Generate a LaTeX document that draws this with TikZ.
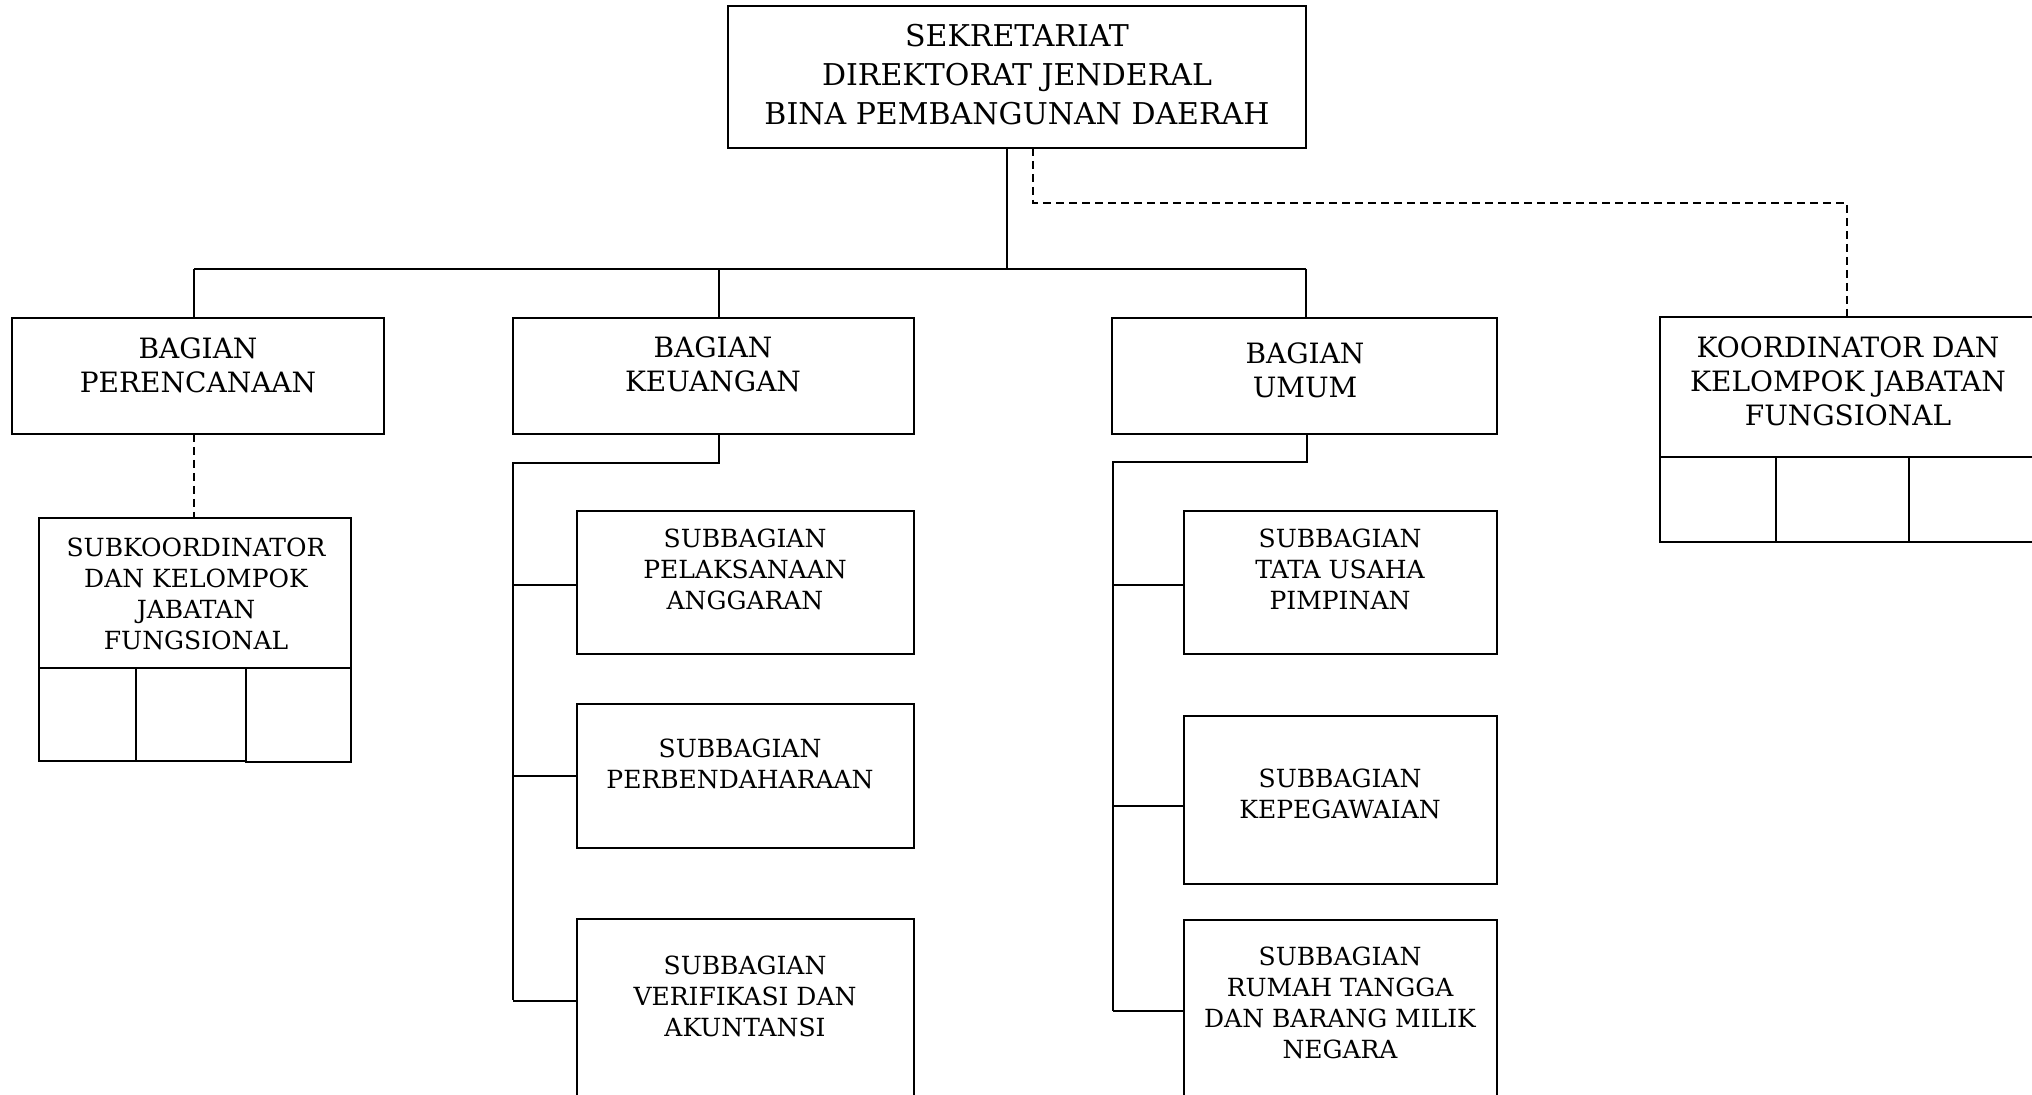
\documentclass[tikz,border=0pt]{standalone}
\usepackage{fontspec}
\setmainfont{DejaVu Serif}
\usetikzlibrary{fit}
\begin{document}
\begin{tikzpicture}[x=0.5pt,y=-0.5pt,
  box/.style={draw,line width=1.1pt,inner sep=0pt,outer sep=0pt},
  conn/.style={draw,line width=1.1pt},
  dconn/.style={draw,line width=1.1pt,dash pattern=on 4pt off 2.5pt},
  ttext/.style={align=center,inner sep=0pt,font=\fontsize{15pt}{19.5pt}\selectfont},
  btext/.style={align=center,inner sep=0pt,font=\fontsize{14pt}{17pt}\selectfont},
  stext/.style={align=center,inner sep=0pt,font=\fontsize{12.5pt}{15.5pt}\selectfont}]
\fill[white] (0,0) rectangle (2032,1095);
\clip (0,0) rectangle (2032,1095);
% boxes
\node[box,fit={(728,6) (1306,148)}] (top) {};
\node[box,fit={(12,318) (384,434)}] (per) {};
\node[box,fit={(513,318) (914,434)}] (keu) {};
\node[box,fit={(1112,318) (1497,434)}] (umu) {};
\node[box,fit={(1660,317) (2036,457)}] (koor) {};
\node[box,fit={(1660,457) (1776,542)}] (koorA) {};
\node[box,fit={(1776,457) (1909,542)}] (koorB) {};
\node[box,fit={(1909,457) (2036,542)}] (koorC) {};
\node[box,fit={(39,518) (351,668)}] (sko) {};
\node[box,fit={(39,668) (136,761)}] (skoA) {};
\node[box,fit={(136,668) (246,761)}] (skoB) {};
\node[box,fit={(246,668) (351,762)}] (skoC) {};
\node[box,fit={(577,511) (914,654)}] (k1) {};
\node[box,fit={(577,704) (914,848)}] (k2) {};
\node[box,fit={(577,919) (914,1130)}] (k3) {};
\node[box,fit={(1184,511) (1497,654)}] (u1) {};
\node[box,fit={(1184,716) (1497,884)}] (u2) {};
\node[box,fit={(1184,920) (1497,1130)}] (u3) {};
% texts
\node[ttext] (toptxt) at (1017,75) {SEKRETARIAT\\DIREKTORAT JENDERAL\\BINA PEMBANGUNAN DAERAH};
\node[btext] (pertxt) at (198,365) {BAGIAN\\PERENCANAAN};
\node[btext] (keutxt) at (713,364) {BAGIAN\\KEUANGAN};
\node[btext] (umutxt) at (1305,370) {BAGIAN\\UMUM};
\node[btext] (koortxt) at (1848,381.5) {KOORDINATOR DAN\\KELOMPOK JABATAN\\FUNGSIONAL};
\node[stext] (skotxt) at (196,593.5) {SUBKOORDINATOR\\DAN KELOMPOK\\JABATAN\\FUNGSIONAL};
\node[stext] (k1txt) at (745,569) {SUBBAGIAN\\PELAKSANAAN\\ANGGARAN};
\node[stext] (k2txt) at (740,764) {SUBBAGIAN\\PERBENDAHARAAN};
\node[stext] (k3txt) at (745,996) {SUBBAGIAN\\VERIFIKASI DAN\\AKUNTANSI};
\node[stext] (u1txt) at (1340,569) {SUBBAGIAN\\TATA USAHA\\PIMPINAN};
\node[stext] (u2txt) at (1340,793.5) {SUBBAGIAN\\KEPEGAWAIAN};
\node[stext] (u3txt) at (1340,1003) {SUBBAGIAN\\RUMAH TANGGA\\DAN BARANG MILIK\\NEGARA};
% coordinates
\coordinate (busC) at (1007,269);
\coordinate (busL) at (194,269);
\coordinate (busK) at (719,269);
\coordinate (busR) at (1306,269);
\coordinate (d1) at (1033,203);
\coordinate (d2) at (1847,203);
\coordinate (kdrop) at (719,463);
\coordinate (kbus) at (513,463);
\coordinate (kend) at (513,1000);
\coordinate (udrop) at (1307,462);
\coordinate (ubus) at (1113,462);
\coordinate (uend) at (1113,1011);
% connectors
\draw[conn] (top.south -| busC) -- (busC);
\draw[conn] (busL) -- (busR);
\draw[conn] (busL) -- (busL |- per.north);
\draw[conn] (busK) -- (busK |- keu.north);
\draw[conn] (busR) -- (busR |- umu.north);
\draw[dconn] (top.south -| d1) -- (d1) -- (d2) -- (d2 |- koor.north);
\draw[dconn] (busL |- per.south) -- (busL |- sko.north);
\draw[conn] (kdrop |- keu.south) -- (kdrop) -- (kbus) -- (kend);
\draw[conn] (kbus |- 0,585) -- (k1.west |- 0,585);
\draw[conn] (kbus |- 0,776) -- (k2.west |- 0,776);
\draw[conn] (kbus |- 0,1001) -- (k3.west |- 0,1001);
\draw[conn] (udrop |- umu.south) -- (udrop) -- (ubus) -- (uend);
\draw[conn] (ubus |- 0,585) -- (u1.west |- 0,585);
\draw[conn] (ubus |- 0,806) -- (u2.west |- 0,806);
\draw[conn] (uend) -- (u3.west |- uend);
\end{tikzpicture}
\end{document}
